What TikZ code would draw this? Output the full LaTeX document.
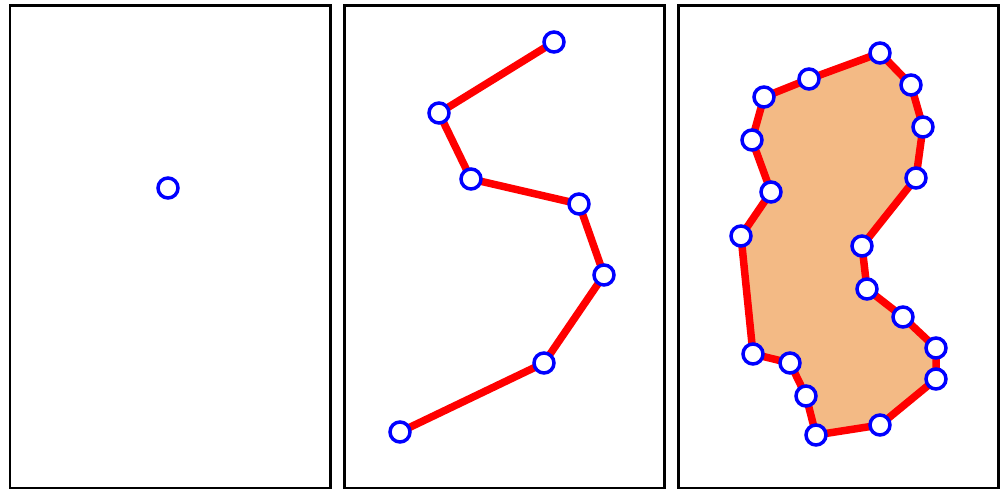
\documentclass[tikz,border=0pt]{standalone}
\usetikzlibrary{backgrounds}
\definecolor{sandfill}{RGB}{243,186,133}
\begin{document}
\begin{tikzpicture}[x=0.02cm, y=-0.02cm,
  panel/.style={draw=black,line width=0.06cm},
  pt/.style={circle,draw=blue,fill=white,line width=0.07cm,minimum size=0.4cm,inner sep=0pt},
  edge/.style={draw=red,line width=0.15cm,line join=round,line cap=round}]
\useasboundingbox (0,0) rectangle (1001,489);
% three panels
\draw[panel] (10,5.5) rectangle (330,488);
\draw[panel] (344,5.5) rectangle (664,488);
\draw[panel] (678,5.5) rectangle (998,488);
% single point
\node[pt] (a1) at (168,188) {};
% open chain
\foreach \n/\x/\y in {1/554/42, 2/439/113, 3/471/179, 4/579/204, 5/604/275, 6/544/363, 7/400/432}
  \node[pt] (b\n) at (\x,\y) {};
% closed outline
\foreach \n/\x/\y in {1/880/53, 2/911/85, 3/923/127, 4/916/178, 5/862/246, 6/867/289, 7/903/317,
  8/936/348, 9/936/379, 10/880/425, 11/816/435, 12/806/396, 13/790/363, 14/753/354,
  15/741/236, 16/771/192, 17/752/140, 18/764/97, 19/809/79}
  \node[pt] (c\n) at (\x,\y) {};
\begin{scope}[on background layer]
\draw[edge] (b1.center) -- (b2.center) -- (b3.center) -- (b4.center) -- (b5.center) -- (b6.center) -- (b7.center);
\draw[edge,fill=sandfill] (c1.center) -- (c2.center) -- (c3.center) -- (c4.center) -- (c5.center) -- (c6.center)
  -- (c7.center) -- (c8.center) -- (c9.center) -- (c10.center) -- (c11.center) -- (c12.center) -- (c13.center)
  -- (c14.center) -- (c15.center) -- (c16.center) -- (c17.center) -- (c18.center) -- (c19.center) -- cycle;
\end{scope}
\end{tikzpicture}
\end{document}
